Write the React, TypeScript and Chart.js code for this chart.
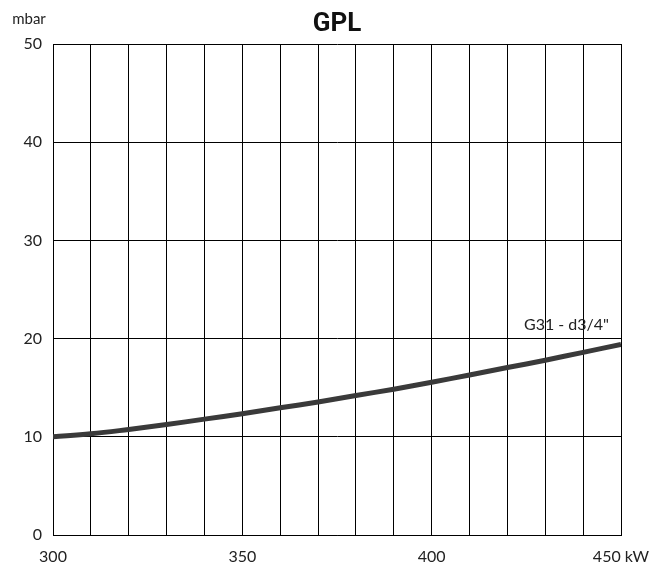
import React, { useEffect, useRef } from "react";
import { Chart, registerables } from "chart.js";

Chart.register(...registerables);

const powerKW = [300, 310, 320, 330, 340, 350, 360, 370, 380, 390, 400, 410, 420, 430, 440, 450];
const pressureMbar = [10.0, 10.3, 10.75, 11.25, 11.8, 12.35, 12.95, 13.55, 14.2, 14.85, 15.55, 16.3, 17.05, 17.8, 18.6, 19.4];
const chartTitle = "GPL";
const seriesLabel = 'G31 - d3/4"';
const yUnit = "mbar";
const xUnit = "kW";

const FONT = "Lato, 'Open Sans', 'DejaVu Sans', sans-serif";

export default function App() {
  const ref = useRef<HTMLCanvasElement | null>(null);

  useEffect(() => {
    if (!ref.current) return;
    const overlay = {
      id: "overlay",
      afterDraw(chart: any) {
        const ctx = chart.ctx;
        const xs = chart.scales.x;
        const ys = chart.scales.y;
        ctx.save();
        ctx.fillStyle = "#111";
        ctx.font = `bold 26px Roboto, ${FONT}`;
        ctx.textAlign = "center";
        ctx.textBaseline = "middle";
        ctx.fillText(chartTitle, (chart.chartArea.left + chart.chartArea.right) / 2, 24);
        ctx.font = `15px ${FONT}`;
        ctx.fillStyle = "#222";
        ctx.fillText(yUnit, 29, 19);
        ctx.font = `16px ${FONT}`;
        ctx.textAlign = "right";
        const last = powerKW.length - 1;
        ctx.fillText(seriesLabel, xs.getPixelForValue(powerKW[last]) - 12, ys.getPixelForValue(pressureMbar[last] + 2.0));
        ctx.restore();
      },
    };
    const chart = new Chart(ref.current, {
      type: "line",
      data: {
        datasets: [
          {
            label: seriesLabel,
            data: powerKW.map((x, i) => ({ x, y: pressureMbar[i] })),
            borderColor: "#3a3a3a",
            borderWidth: 5,
            pointRadius: 0,
            tension: 0.4,
            fill: false,
          },
        ],
      },
      options: {
        animation: false,
        responsive: true,
        maintainAspectRatio: false,
        layout: { padding: { top: 44, left: 0, right: 41, bottom: 0 } },
        plugins: { legend: { display: false }, title: { display: false }, tooltip: { enabled: false } },
        scales: {
          x: {
            type: "linear",
            min: 300,
            max: 450,
            afterFit: (s: any) => { s.height = 30; },
            ticks: {
              stepSize: 10,
              autoSkip: false,
              maxRotation: 0,
              padding: 12,
              color: "#222",
              font: { family: FONT, size: 16 },
              callback: (v: any) => (v % 50 === 0 ? (v === 450 ? `${v} ${xUnit}` : `${v}`) : ""),
            },
            grid: { color: "#000", lineWidth: 1, drawTicks: false },
            border: { color: "#000", width: 1 },
          },
          y: {
            min: 0,
            max: 50,
            afterFit: (s: any) => { s.width = 53; },
            ticks: {
              stepSize: 10,
              padding: 11,
              color: "#222",
              font: { family: FONT, size: 16 },
            },
            grid: { color: "#000", lineWidth: 1, drawTicks: false },
            border: { color: "#000", width: 1 },
          },
        },
      },
      plugins: [overlay],
    });
    return () => chart.destroy();
  }, []);

  return (
    <div style={{ position: "absolute", left: 0, top: 0, width: 662, height: 565, background: "#fff" }}>
      <canvas ref={ref} />
    </div>
  );
}
